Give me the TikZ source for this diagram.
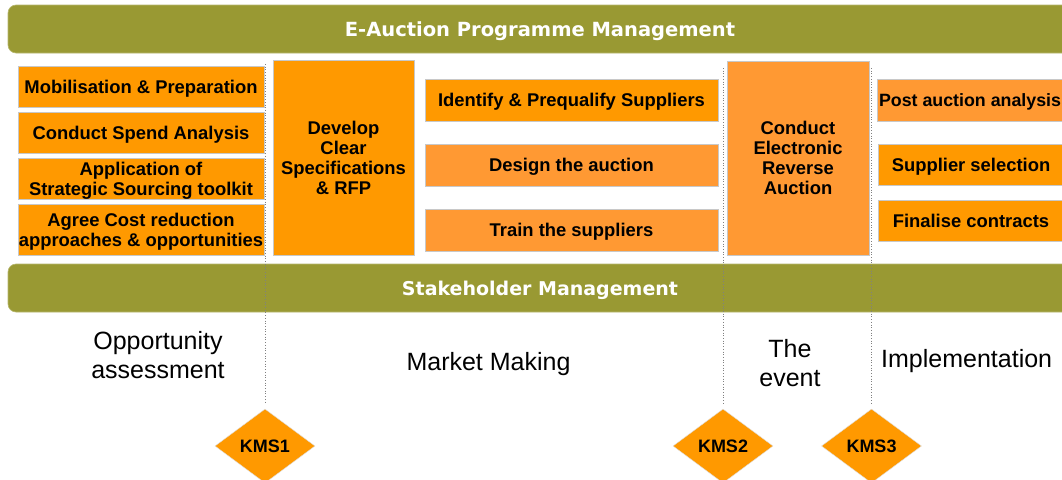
\documentclass[tikz,border=0pt]{standalone}
\usepackage{fontspec}
\setmainfont{Liberation Sans}
\newfontfamily\hdrfont{DejaVu Sans}
\usetikzlibrary{shapes.geometric}
\definecolor{olive}{HTML}{999933}
\definecolor{oA}{HTML}{FF9900}
\definecolor{oB}{HTML}{FF9933}
\definecolor{boxgray}{HTML}{C8C8C8}
\tikzset{
  bar/.style={fill=olive, draw=olive!70!white, line width=0.6pt, rounded corners=8pt,
    minimum width=1064pt, minimum height=48pt, inner sep=0pt, text=white, text depth=0pt,
    font=\hdrfont\bfseries\fontsize{19}{22}\selectfont},
  box/.style={draw=boxgray, line width=0.8pt, inner sep=0pt, align=center, text depth=0pt,
    font=\bfseries\fontsize{18.4}{20}\selectfont},
  kms/.style={diamond, fill=oA, draw=boxgray!60!white, line width=0.4pt, inner sep=0pt,
    minimum width=100pt, minimum height=74pt, font=\bfseries\fontsize{18}{20}\selectfont},
  phase/.style={align=center, inner sep=0pt, font=\fontsize{25}{29.5}\selectfont},
  guide/.style={draw=gray, dotted, line width=0.7pt}
}
\begin{document}
\begin{tikzpicture}[x=1pt,y=-1pt]
\clip (0,0) rectangle (1062,479);
\fill[white] (0,0) rectangle (1062,479);
% bars
\node[bar, font=\hdrfont\bfseries\fontsize{19.5}{22}\selectfont] (pm) at (540,29) {E-Auction Programme Management};
\node[bar] (sm) at (540,288) {Stakeholder Management};
% left column
\node[box, fill=oA, minimum width=246pt, minimum height=41pt] (mob) at (141,86.5) {Mobilisation \& Preparation};
\node[box, fill=oA, minimum width=246pt, minimum height=41pt] (spend) at (141,132.5) {Conduct Spend Analysis};
\node[box, fill=oA, minimum width=246pt, minimum height=41pt] (appl) at (141,178.5) {Application of\\Strategic Sourcing toolkit};
\node[box, fill=oA, minimum width=246pt, minimum height=51pt] (agree) at (141,229.5) {Agree Cost reduction\\approaches \& opportunities};
% develop
\node[box, fill=oA, minimum width=141pt, minimum height=195pt] (dev) at (343.5,157.5) {Develop\\Clear\\Specifications\\\& RFP};
% market making boxes
\node[box, fill=oA, minimum width=293pt, minimum height=42pt] (ident) at (571.5,100) {Identify \& Prequalify Suppliers};
\node[box, fill=oB, minimum width=293pt, minimum height=42pt] (design) at (571.5,165) {Design the auction};
\node[box, fill=oB, minimum width=293pt, minimum height=42pt] (train) at (571.5,230) {Train the suppliers};
% event
\node[box, fill=oB, minimum width=142pt, minimum height=194pt] (era) at (798,158) {Conduct\\Electronic\\Reverse\\Auction};
% implementation boxes
\node[box, fill=oB, minimum width=186pt, minimum height=42pt, font=\bfseries\fontsize{17.8}{20}\selectfont] (post) at (970,100) {Post auction analysis};
\node[box, fill=oA, minimum width=186pt, minimum height=41pt] (sel) at (971,164.5) {Supplier selection};
\node[box, fill=oA, minimum width=186pt, minimum height=41pt] (fin) at (971,220.5) {Finalise contracts};
% milestones
\node[kms] (k1) at (265,446) {KMS1};
\node[kms] (k2) at (723,446) {KMS2};
\node[kms] (k3) at (871.5,446) {KMS3};
% guide lines
\coordinate (g1) at (265,64);
\coordinate (g2) at (723,68);
\coordinate (g3) at (871.5,68);
\draw[guide, shorten >=5pt] (g1) -- (k1.north);
\draw[guide, shorten >=5pt] (g2) -- (k2.north);
\draw[guide, shorten >=5pt] (g3) -- (k3.north);
% phase labels
\node[phase] (ph1) at (158,355) {Opportunity\\assessment};
\node[phase, anchor=base] (ph2) at (488.5,370) {Market Making};
\node[phase] (ph3) at (790,363) {The\\event};
\node[phase, anchor=base west] (ph4) at (881,367) {Implementation};
\end{tikzpicture}
\end{document}
